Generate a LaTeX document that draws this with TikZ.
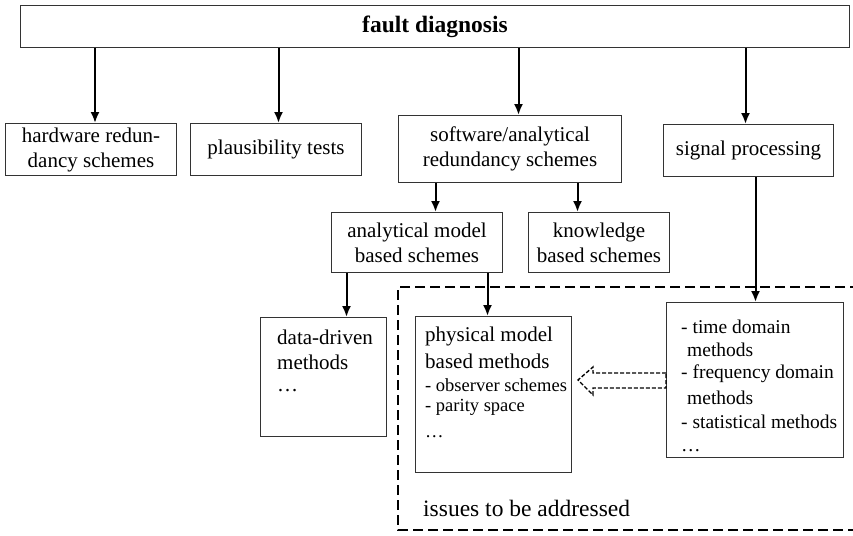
\documentclass[tikz,border=0pt]{standalone}
\usepackage{fontspec}
\setmainfont{Liberation Serif}
\usetikzlibrary{arrows.meta,calc}
\begin{document}
\begin{tikzpicture}[x=1pt,y=-1pt,
  box/.style={draw=black!80,line width=1pt,inner sep=0pt,anchor=north west,align=center,font=\fontsize{21}{25}\selectfont},
  txt/.style={anchor=west,inner sep=0pt,font=\fontsize{21}{25}\selectfont},
  stxt/.style={anchor=west,inner sep=0pt,font=\fontsize{18.5}{22}\selectfont},
  mtxt/.style={anchor=west,inner sep=0pt,font=\fontsize{19.5}{22}\selectfont},
  arr/.style={line width=2pt,-{Latex[length=11pt,width=9pt]}},
  ln/.style={line width=2pt}]
\useasboundingbox (0,0) rectangle (853,535);
% top
\node[box,minimum width=829pt,minimum height=42pt,font=\fontsize{23.5}{26}\selectfont\bfseries] (top) at (20,5) {fault diagnosis};
% level 1
\node[box,minimum width=171pt,minimum height=52pt] (hw) at (5,123) {hardware redun-\\dancy schemes};
\node[box,minimum width=171pt,minimum height=52pt] (pl) at (190,123) {plausibility tests};
\node[box,minimum width=223pt,minimum height=67pt] (sw) at (398,115) {software/analytical\\redundancy schemes};
\node[box,minimum width=170pt,minimum height=52pt] (sp) at (663,124) {signal processing};
% level 2
\node[box,minimum width=171pt,minimum height=60pt] (am) at (331,212) {analytical model\\based schemes};
\node[box,minimum width=141pt,minimum height=60pt] (kb) at (528,212) {knowledge\\based schemes};
% dashed region
\draw[line width=2pt,dash pattern=on 10pt off 5pt] (860,287) -- (398,287) -- (398,530) -- (860,530);
\node[txt,font=\fontsize{23.5}{26}\selectfont] (iss) at (423,508) {issues to be addressed};
% level 3
\node[box,minimum width=126pt,minimum height=119pt] (dd) at (260,317) {};
\node[txt] (dd1) at (277,337) {data-driven};
\node[txt] (dd2) at (277,362) {methods};
\node[txt] (dd3) at (277,391) {…};
\node[box,minimum width=156pt,minimum height=156pt] (pm) at (415,316) {};
\node[txt] (pm1) at (425,336) {physical model};
\node[txt] (pm2) at (425,361) {based methods};
\node[stxt] (pm3) at (425,385) {- observer schemes};
\node[stxt] (pm4) at (425,407) {- parity space};
\node[stxt] (pm5) at (425,437) {…};
\node[box,minimum width=177pt,minimum height=155pt] (td) at (666,302) {};
\node[mtxt] (td1) at (681,327) {- time domain};
\node[mtxt] (td2) at (687,350) {methods};
\node[mtxt] (td3) at (681,374) {- frequency domain};
\node[mtxt] (td4) at (687,398) {methods};
\node[mtxt] (td5) at (681,422) {- statistical methods};
\node[mtxt] (td6) at (681,451) {…};
% arrows from top
\coordinate (a1) at ([xshift=4pt]hw.north);
\coordinate (a2) at ([xshift=2.5pt]pl.north);
\coordinate (a3) at ([xshift=8.5pt]sw.north);
\coordinate (a4) at ([xshift=-3pt]sp.north);
\draw[arr] (top.south -| a1) -- (a1);
\draw[arr] (top.south -| a2) -- (a2);
\draw[arr] (top.south -| a3) -- (a3);
\draw[arr] (top.south -| a4) -- (a4);
% software to level 2
\coordinate (b1) at ([xshift=18.5pt]am.north);
\coordinate (b2) at ([xshift=-21.5pt]kb.north);
\draw[arr] (sw.south -| b1) -- (b1);
\draw[arr] (sw.south -| b2) -- (b2);
% analytical to level 3
\coordinate (c1) at ([xshift=23pt]dd.north);
\coordinate (c2) at ([xshift=-6pt]pm.north);
\draw[arr] (am.south -| c1) -- (c1);
\draw[arr] (am.south -| c2) -- (c2);
% signal processing to time domain
\coordinate (d1) at ([xshift=0.5pt]td.north);
\draw[arr] (sp.south -| d1) -- (d1);
% hollow dashed arrow
\draw[line width=1.4pt,dash pattern=on 4pt off 2pt]
  ($(td.west)+(0,-7)$) -- (593,373) -- (593,367) -- (578,380) -- (593,395) -- (593,388) -- ($(td.west)+(0,8)$) -- cycle;
\end{tikzpicture}
\end{document}
